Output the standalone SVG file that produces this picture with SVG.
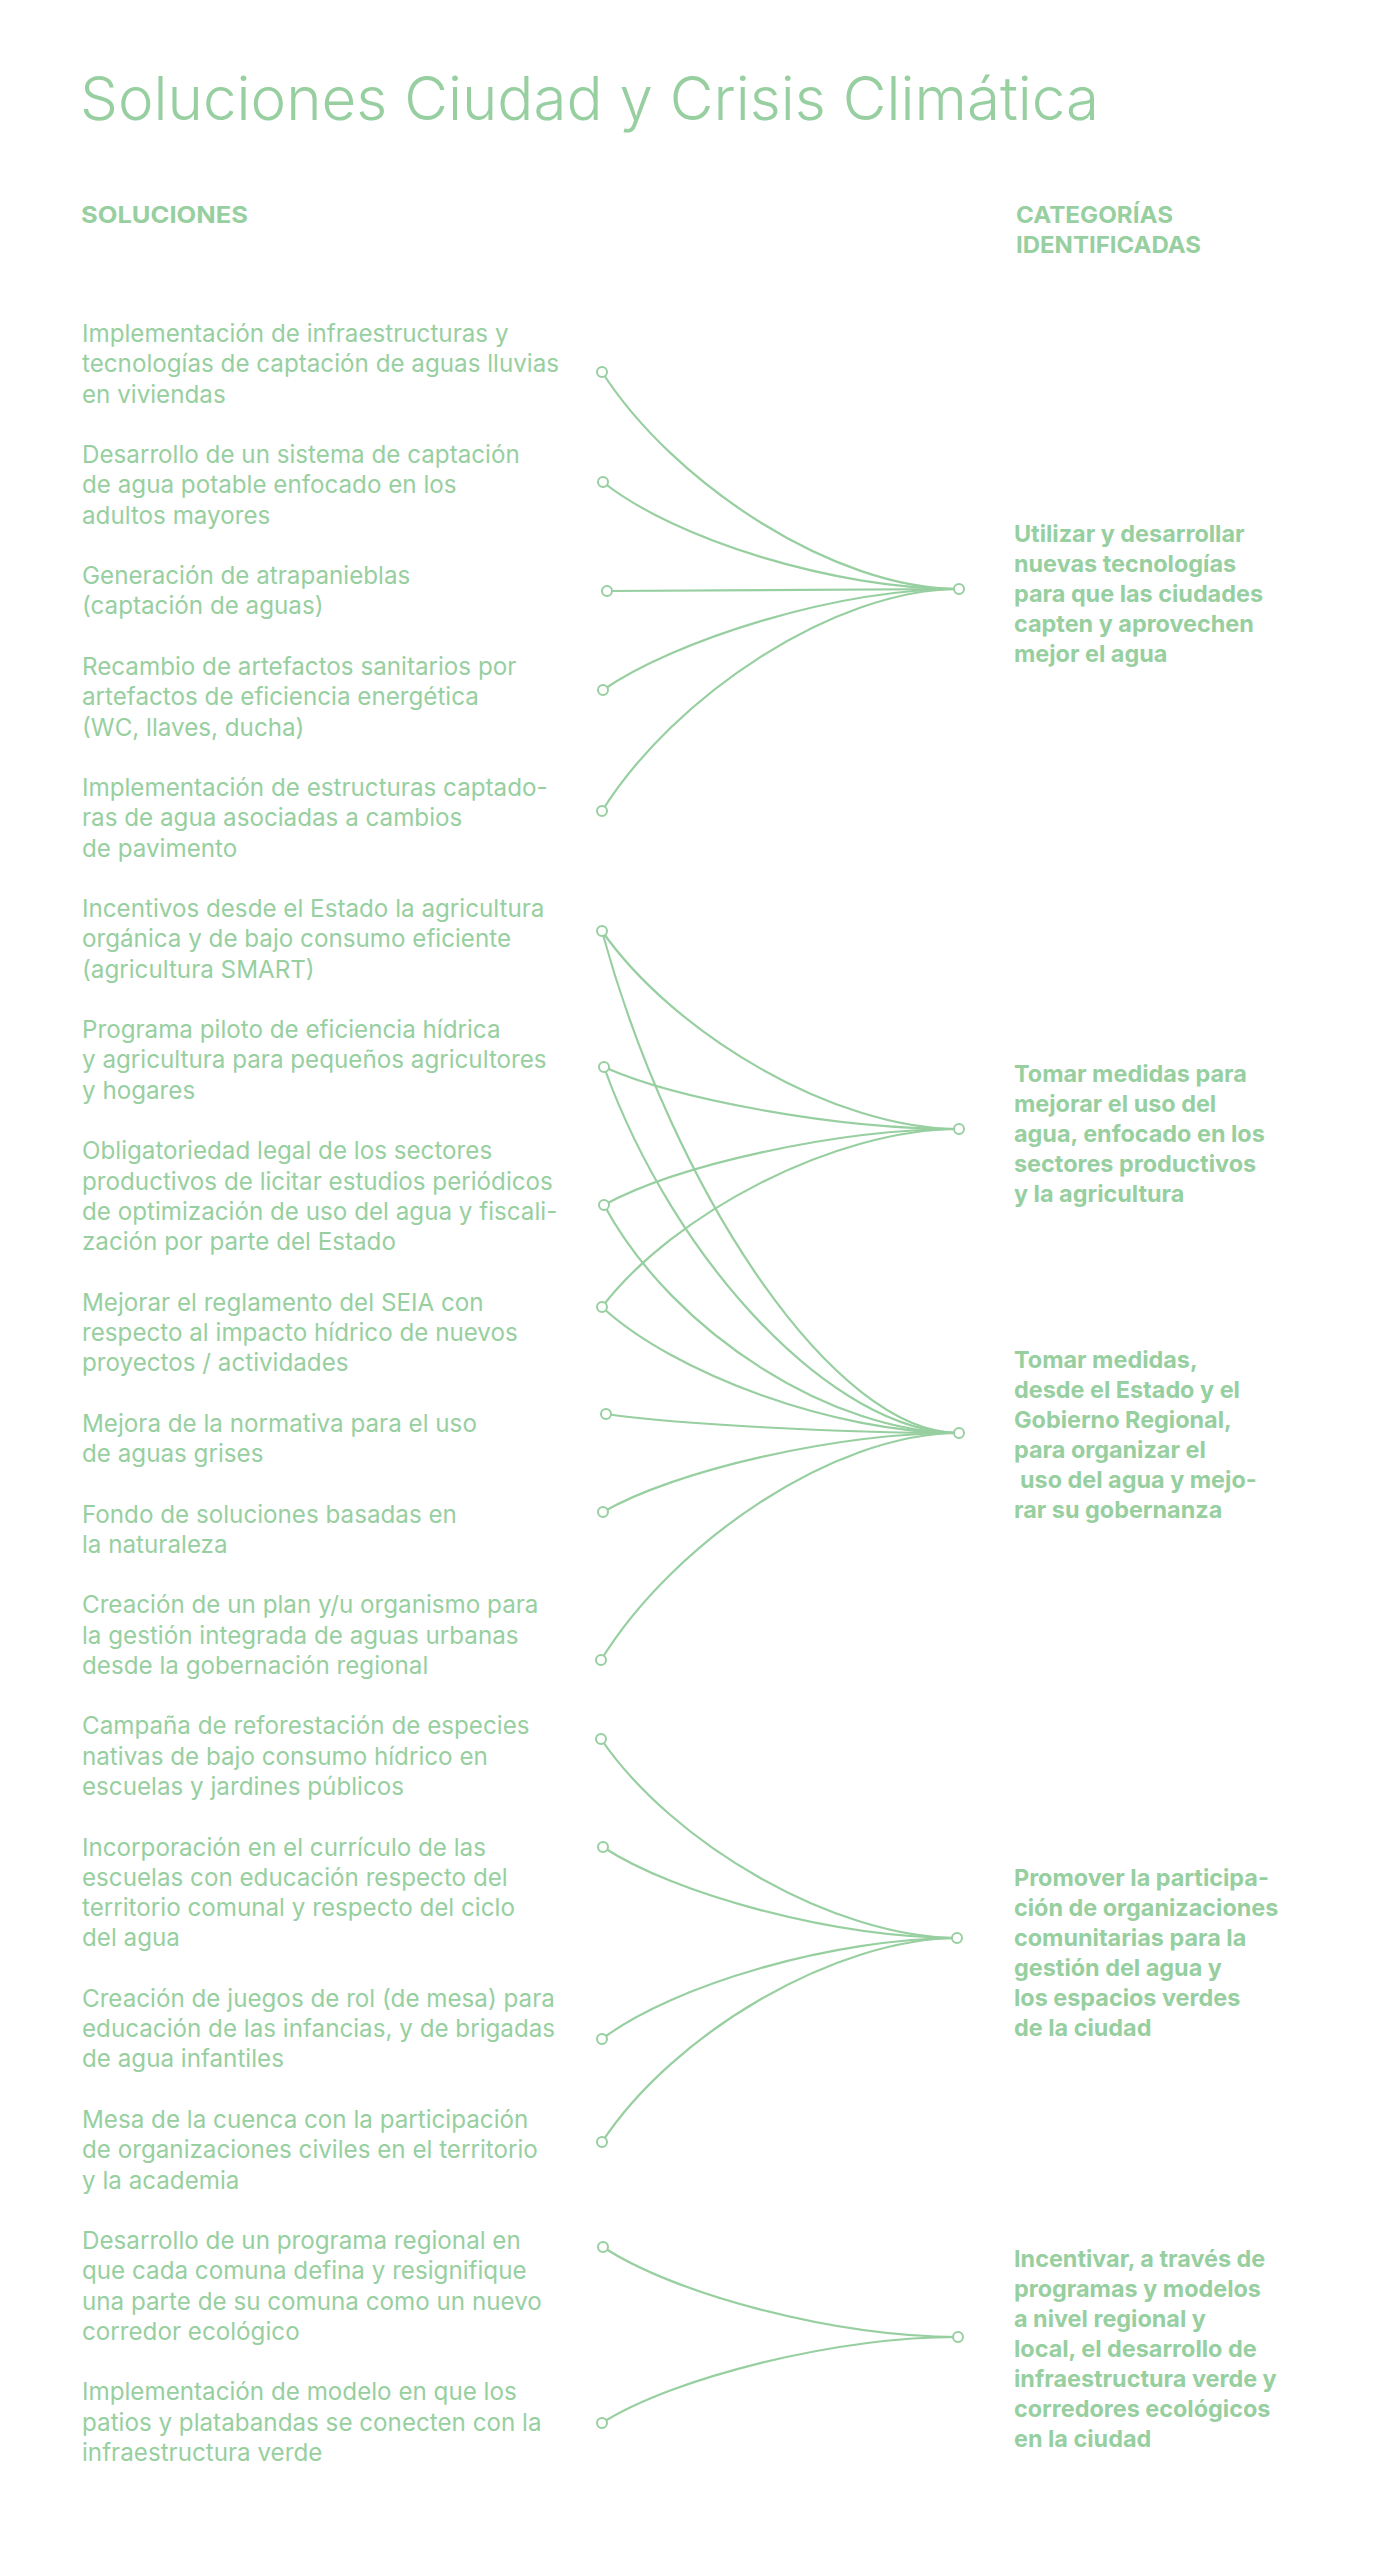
<svg xmlns="http://www.w3.org/2000/svg" width="1385" height="2560" viewBox="0 0 1385 2560">
<style>
.t{font-family:Inter,"Liberation Sans",sans-serif;fill:#97cfa0}
.title{font-size:60px;font-weight:300}
.h{font-size:23px;font-weight:700}
.s{font-size:24.2px;font-weight:400}
.c{font-size:23.4px;font-weight:700}
.ln{fill:none;stroke:#97cfa0;stroke-width:2.2}
.dot{fill:#fff;stroke:#97cfa0;stroke-width:2}
</style>
<rect width="1385" height="2560" fill="#fff"/>
<g id="header">
<text class="t title" x="80" y="120" textLength="1019" lengthAdjust="spacingAndGlyphs">Soluciones Ciudad y Crisis Climática</text>
<text class="t h" x="81" y="222.5" textLength="167" lengthAdjust="spacingAndGlyphs">SOLUCIONES</text>
<text class="t h" x="1016" y="222.5" textLength="157" lengthAdjust="spacingAndGlyphs">CATEGORÍAS</text>
<text class="t h" x="1016" y="252.5" textLength="185" lengthAdjust="spacingAndGlyphs">IDENTIFICADAS</text>
</g>
<g id="connectors">
<path class="ln" d="M602,372 C674,484 834,589 959,589"/>
<path class="ln" d="M603,482 C674,539 834,589 959,589"/>
<path class="ln" d="M607,591 L959,589"/>
<path class="ln" d="M603,690 C674,641 834,589 959,589"/>
<path class="ln" d="M602,811 C674,696 834,589 959,589"/>
<path class="ln" d="M602,931 C674,1034 834,1129 959,1129"/>
<path class="ln" d="M602,931 C673,1192 834,1433 959,1433"/>
<path class="ln" d="M604,1067 C675,1099 835,1129 959,1129"/>
<path class="ln" d="M604,1067 C675,1264 835,1433 959,1433"/>
<path class="ln" d="M604,1205 C675,1166 835,1129 959,1129"/>
<path class="ln" d="M604,1205 C675,1336 835,1433 959,1433"/>
<path class="ln" d="M602,1307 C673,1214 834,1129 959,1129"/>
<path class="ln" d="M602,1307 C673,1373 834,1433 959,1433"/>
<path class="ln" d="M606,1414 C677,1424 835,1433 959,1433"/>
<path class="ln" d="M603,1512 C674,1471 834,1433 959,1433"/>
<path class="ln" d="M601,1660 C673,1543 833,1433 959,1433"/>
<path class="ln" d="M601,1739 C672,1843 833,1938 959,1938"/>
<path class="ln" d="M603,1847 C674,1894 834,1938 959,1938"/>
<path class="ln" d="M602,2039 C673,1985 834,1938 959,1938"/>
<path class="ln" d="M602,2142 C673,2034 834,1938 959,1938"/>
<path class="ln" d="M603,2247 C674,2294 834,2337 959,2337"/>
<path class="ln" d="M602,2423 C673,2378 834,2337 959,2337"/>
</g>
<g id="sol-1"><text class="t s" x="82" y="342"><tspan x="82">Implementación de infraestructuras y</tspan><tspan x="82" dy="30.27">tecnologías de captación de aguas lluvias</tspan><tspan x="82" dy="30.27">en viviendas</tspan></text><circle class="dot" cx="602" cy="372" r="5"/></g>
<g id="sol-2"><text class="t s" x="82" y="463.1"><tspan x="82">Desarrollo de un sistema de captación</tspan><tspan x="82" dy="30.27">de agua potable enfocado en los</tspan><tspan x="82" dy="30.27">adultos mayores</tspan></text><circle class="dot" cx="603" cy="482" r="5"/></g>
<g id="sol-3"><text class="t s" x="82" y="584.2"><tspan x="82">Generación de atrapanieblas</tspan><tspan x="82" dy="30.27">(captación de aguas)</tspan></text><circle class="dot" cx="607" cy="591" r="5"/></g>
<g id="sol-4"><text class="t s" x="82" y="675"><tspan x="82">Recambio de artefactos sanitarios por</tspan><tspan x="82" dy="30.27">artefactos de eficiencia energética</tspan><tspan x="82" dy="30.27">(WC, llaves, ducha)</tspan></text><circle class="dot" cx="603" cy="690" r="5"/></g>
<g id="sol-5"><text class="t s" x="82" y="796.1"><tspan x="82">Implementación de estructuras captado-</tspan><tspan x="82" dy="30.27">ras de agua asociadas a cambios</tspan><tspan x="82" dy="30.27">de pavimento</tspan></text><circle class="dot" cx="602" cy="811" r="5"/></g>
<g id="sol-6"><text class="t s" x="82" y="917.1"><tspan x="82">Incentivos desde el Estado la agricultura</tspan><tspan x="82" dy="30.27">orgánica y de bajo consumo eficiente</tspan><tspan x="82" dy="30.27">(agricultura SMART)</tspan></text><circle class="dot" cx="602" cy="931" r="5"/></g>
<g id="sol-7"><text class="t s" x="82" y="1038.2"><tspan x="82">Programa piloto de eficiencia hídrica</tspan><tspan x="82" dy="30.27">y agricultura para pequeños agricultores</tspan><tspan x="82" dy="30.27">y hogares</tspan></text><circle class="dot" cx="604" cy="1067" r="5"/></g>
<g id="sol-8"><text class="t s" x="82" y="1159.3"><tspan x="82">Obligatoriedad legal de los sectores</tspan><tspan x="82" dy="30.27">productivos de licitar estudios periódicos</tspan><tspan x="82" dy="30.27">de optimización de uso del agua y fiscali-</tspan><tspan x="82" dy="30.27">zación por parte del Estado</tspan></text><circle class="dot" cx="604" cy="1205" r="5"/></g>
<g id="sol-9"><text class="t s" x="82" y="1310.6"><tspan x="82">Mejorar el reglamento del SEIA con</tspan><tspan x="82" dy="30.27">respecto al impacto hídrico de nuevos</tspan><tspan x="82" dy="30.27">proyectos / actividades</tspan></text><circle class="dot" cx="602" cy="1307" r="5"/></g>
<g id="sol-10"><text class="t s" x="82" y="1431.7"><tspan x="82">Mejora de la normativa para el uso</tspan><tspan x="82" dy="30.27">de aguas grises</tspan></text><circle class="dot" cx="606" cy="1414" r="5"/></g>
<g id="sol-11"><text class="t s" x="82" y="1522.5"><tspan x="82">Fondo de soluciones basadas en</tspan><tspan x="82" dy="30.27">la naturaleza</tspan></text><circle class="dot" cx="603" cy="1512" r="5"/></g>
<g id="sol-12"><text class="t s" x="82" y="1613.3"><tspan x="82">Creación de un plan y/u organismo para</tspan><tspan x="82" dy="30.27">la gestión integrada de aguas urbanas</tspan><tspan x="82" dy="30.27">desde la gobernación regional</tspan></text><circle class="dot" cx="601" cy="1660" r="5"/></g>
<g id="sol-13"><text class="t s" x="82" y="1734.4"><tspan x="82">Campaña de reforestación de especies</tspan><tspan x="82" dy="30.27">nativas de bajo consumo hídrico en</tspan><tspan x="82" dy="30.27">escuelas y jardines públicos</tspan></text><circle class="dot" cx="601" cy="1739" r="5"/></g>
<g id="sol-14"><text class="t s" x="82" y="1855.5"><tspan x="82">Incorporación en el currículo de las</tspan><tspan x="82" dy="30.27">escuelas con educación respecto del</tspan><tspan x="82" dy="30.27">territorio comunal y respecto del ciclo</tspan><tspan x="82" dy="30.27">del agua</tspan></text><circle class="dot" cx="603" cy="1847" r="5"/></g>
<g id="sol-15"><text class="t s" x="82" y="2006.9"><tspan x="82">Creación de juegos de rol (de mesa) para</tspan><tspan x="82" dy="30.27">educación de las infancias, y de brigadas</tspan><tspan x="82" dy="30.27">de agua infantiles</tspan></text><circle class="dot" cx="602" cy="2039" r="5"/></g>
<g id="sol-16"><text class="t s" x="82" y="2128"><tspan x="82">Mesa de la cuenca con la participación</tspan><tspan x="82" dy="30.27">de organizaciones civiles en el territorio</tspan><tspan x="82" dy="30.27">y la academia</tspan></text><circle class="dot" cx="602" cy="2142" r="5"/></g>
<g id="sol-17"><text class="t s" x="82" y="2249"><tspan x="82">Desarrollo de un programa regional en</tspan><tspan x="82" dy="30.27">que cada comuna defina y resignifique</tspan><tspan x="82" dy="30.27">una parte de su comuna como un nuevo</tspan><tspan x="82" dy="30.27">corredor ecológico</tspan></text><circle class="dot" cx="603" cy="2247" r="5"/></g>
<g id="sol-18"><text class="t s" x="82" y="2400.4"><tspan x="82">Implementación de modelo en que los</tspan><tspan x="82" dy="30.27">patios y platabandas se conecten con la</tspan><tspan x="82" dy="30.27">infraestructura verde</tspan></text><circle class="dot" cx="602" cy="2423" r="5"/></g>
<g id="cat-A"><text class="t c" x="1014" y="541.7"><tspan x="1014">Utilizar y desarrollar</tspan><tspan x="1014" dy="30">nuevas tecnologías</tspan><tspan x="1014" dy="30">para que las ciudades</tspan><tspan x="1014" dy="30">capten y aprovechen</tspan><tspan x="1014" dy="30">mejor el agua</tspan></text><circle class="dot" cx="959" cy="589" r="5"/></g>
<g id="cat-B"><text class="t c" x="1014" y="1081.7"><tspan x="1014">Tomar medidas para</tspan><tspan x="1014" dy="30">mejorar el uso del</tspan><tspan x="1014" dy="30">agua, enfocado en los</tspan><tspan x="1014" dy="30">sectores productivos</tspan><tspan x="1014" dy="30">y la agricultura</tspan></text><circle class="dot" cx="959" cy="1129" r="5"/></g>
<g id="cat-C"><text class="t c" x="1014" y="1368.3"><tspan x="1014">Tomar medidas,</tspan><tspan x="1014" dy="30">desde el Estado y el</tspan><tspan x="1014" dy="30">Gobierno Regional,</tspan><tspan x="1014" dy="30">para organizar el</tspan><tspan x="1020" dy="30">uso del agua y mejo-</tspan><tspan x="1014" dy="30">rar su gobernanza</tspan></text><circle class="dot" cx="959" cy="1433" r="5"/></g>
<g id="cat-D"><text class="t c" x="1014" y="1885.7"><tspan x="1014">Promover la participa-</tspan><tspan x="1014" dy="30">ción de organizaciones</tspan><tspan x="1014" dy="30">comunitarias para la</tspan><tspan x="1014" dy="30">gestión del agua y</tspan><tspan x="1014" dy="30">los espacios verdes</tspan><tspan x="1014" dy="30">de la ciudad</tspan></text><circle class="dot" cx="957" cy="1938" r="5"/></g>
<g id="cat-E"><text class="t c" x="1014" y="2267.3"><tspan x="1014">Incentivar, a través de</tspan><tspan x="1014" dy="30">programas y modelos</tspan><tspan x="1014" dy="30">a nivel regional y</tspan><tspan x="1014" dy="30">local, el desarrollo de</tspan><tspan x="1014" dy="30">infraestructura verde y</tspan><tspan x="1014" dy="30">corredores ecológicos</tspan><tspan x="1014" dy="30">en la ciudad</tspan></text><circle class="dot" cx="958" cy="2337" r="5"/></g>
</svg>
